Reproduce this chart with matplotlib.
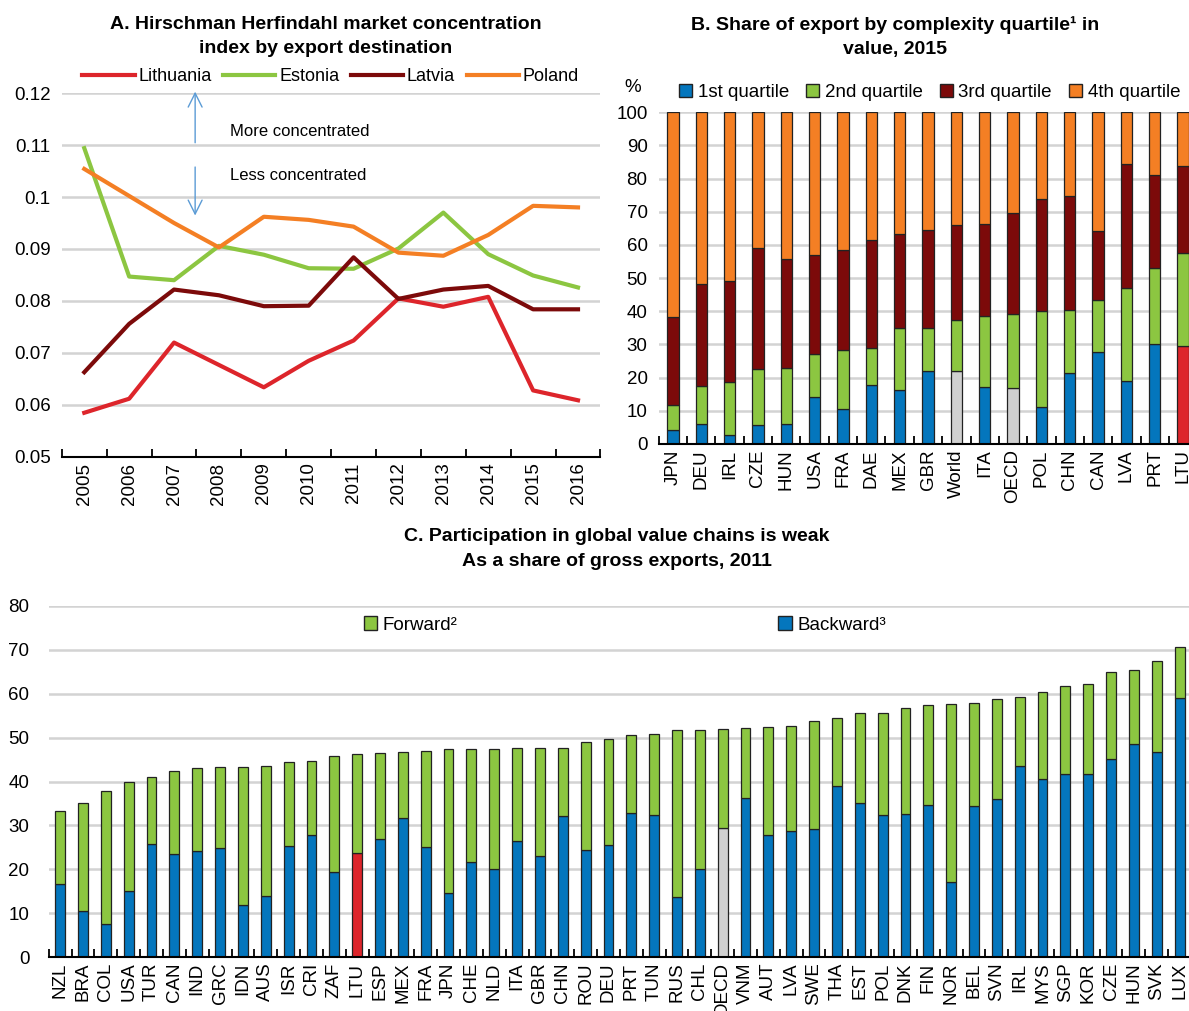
import numpy as np
import matplotlib
matplotlib.use("Agg")
import matplotlib.pyplot as plt
from matplotlib.patches import Patch

plt.rcParams['font.family'] = ['Liberation Sans Narrow', 'Liberation Sans', 'DejaVu Sans']
plt.rcParams['font.size'] = 13

# ---- Panel A data
years = ['2005', '2006', '2007', '2008', '2009', '2010', '2011', '2012', '2013', '2014', '2015', '2016']
lithuania = [0.0585, 0.0612, 0.0720, 0.0677, 0.0634, 0.0685, 0.0724, 0.0805, 0.0789, 0.0808, 0.0628, 0.0609]
estonia = [0.1094, 0.0847, 0.0840, 0.0906, 0.0889, 0.0863, 0.0862, 0.0901, 0.0970, 0.0890, 0.0849, 0.0826]
latvia = [0.0663, 0.0756, 0.0822, 0.0811, 0.0790, 0.0791, 0.0884, 0.0804, 0.0822, 0.0829, 0.0784, 0.0784]
poland = [0.1054, 0.1002, 0.0950, 0.0903, 0.0962, 0.0956, 0.0943, 0.0893, 0.0887, 0.0927, 0.0983, 0.0980]

# ---- Panel B data
b_countries = ['JPN', 'DEU', 'IRL', 'CZE', 'HUN', 'USA', 'FRA', 'DAE', 'MEX', 'GBR',
               'World', 'ITA', 'OECD', 'POL', 'CHN', 'CAN', 'LVA', 'PRT', 'LTU']
q1 = [4.3, 6.0, 2.6, 5.7, 6.0, 14.0, 10.5, 17.7, 16.2, 22.0, 22.0, 17.0, 16.8, 11.0, 21.5, 27.8, 19.0, 30.1, 29.6]
q2 = [7.5, 11.4, 16.1, 16.8, 16.8, 13.1, 17.8, 11.1, 18.6, 12.9, 15.3, 21.4, 22.3, 29.1, 18.8, 15.7, 28.1, 23.0, 28.0]
q3 = [26.4, 30.8, 30.3, 36.6, 32.9, 29.7, 30.1, 32.8, 28.4, 29.7, 28.7, 28.0, 30.5, 33.7, 34.5, 20.8, 37.4, 28.1, 26.1]
q4 = [61.8, 51.8, 51.0, 40.9, 44.3, 43.2, 41.6, 38.4, 36.8, 35.4, 34.0, 33.6, 30.4, 26.2, 25.2, 35.7, 15.5, 18.8, 16.3]

# ---- Panel C data
c_countries = ['NZL', 'BRA', 'COL', 'USA', 'TUR', 'CAN', 'IND', 'GRC', 'IDN', 'AUS', 'ISR', 'CRI', 'ZAF',
               'LTU', 'ESP', 'MEX', 'FRA', 'JPN', 'CHE', 'NLD', 'ITA', 'GBR', 'CHN', 'ROU', 'DEU', 'PRT',
               'TUN', 'RUS', 'CHL', 'OECD', 'VNM', 'AUT', 'LVA', 'SWE', 'THA', 'EST', 'POL', 'DNK', 'FIN',
               'NOR', 'BEL', 'SVN', 'IRL', 'MYS', 'SGP', 'KOR', 'CZE', 'HUN', 'SVK', 'LUX']
backward = [16.6, 10.6, 7.6, 15.0, 25.7, 23.4, 24.1, 24.8, 11.9, 14.0, 25.2, 27.7, 19.4,
            23.7, 26.8, 31.6, 25.1, 14.6, 21.7, 20.0, 26.4, 23.0, 32.1, 24.4, 25.5, 32.8,
            32.3, 13.7, 20.1, 29.5, 36.2, 27.8, 28.7, 29.1, 38.9, 35.2, 32.3, 32.6, 34.6,
            17.1, 34.5, 36.1, 43.6, 40.5, 41.8, 41.6, 45.2, 48.6, 46.8, 59.0]
total = [33.3, 35.2, 37.8, 39.9, 41.0, 42.5, 43.1, 43.2, 43.4, 43.6, 44.5, 44.6, 45.9,
         46.3, 46.5, 46.7, 47.0, 47.3, 47.3, 47.4, 47.6, 47.6, 47.6, 49.0, 49.6, 50.5,
         50.8, 51.7, 51.8, 52.0, 52.3, 52.4, 52.7, 53.8, 54.4, 55.6, 55.6, 56.8, 57.4,
         57.7, 58.0, 58.8, 59.3, 60.4, 61.7, 62.2, 65.0, 65.3, 67.4, 70.7]
forward = [t - b for t, b in zip(total, backward)]

RED = '#dd252b'
GREEN = '#8cc641'
DARKRED = '#7c0a0a'
ORANGE = '#f47f24'
BLUE = '#0476bd'
GREY = '#d0d0d0'
GRID = '#d3d3d3'


def style_axis(ax, n):
    ax.set_axisbelow(True)
    ax.yaxis.grid(True, color=GRID, linewidth=1.8)
    for s in ['left', 'right', 'top']:
        ax.spines[s].set_visible(False)
    ax.spines['bottom'].set_linewidth(1.5)
    ax.set_xlim(-0.5, n - 0.5)
    ax.set_xticks(np.arange(n))
    ax.set_xticks(np.arange(n + 1) - 0.5, minor=True)
    ax.tick_params(axis='x', which='major', length=0, rotation=90, labelsize=13.5, pad=4)
    ax.tick_params(axis='x', which='minor', direction='in', length=6, width=1.3)
    ax.tick_params(axis='y', length=0, labelsize=13.5, pad=8)


fig = plt.figure(figsize=(11.89, 10.11), dpi=100)

# ---------------- Panel A
axA = fig.add_axes([0.052, 0.548, 0.453, 0.360])
x = np.arange(len(years))
axA.plot(x, lithuania, color=RED, lw=3, label='Lithuania')
axA.plot(x, estonia, color=GREEN, lw=3, label='Estonia')
axA.plot(x, latvia, color=DARKRED, lw=3, label='Latvia')
axA.plot(x, poland, color=ORANGE, lw=3, label='Poland')
style_axis(axA, len(years))
axA.set_xticklabels(years)
axA.set_ylim(0.05, 0.12)
axA.set_yticks([0.05, 0.06, 0.07, 0.08, 0.09, 0.1, 0.11, 0.12])
axA.set_yticklabels(['0.05', '0.06', '0.07', '0.08', '0.09', '0.1', '0.11', '0.12'])
axA.annotate('', xy=(2.47, 0.1208), xytext=(2.47, 0.1099),
             arrowprops=dict(arrowstyle='->', color='#5b9bd5', lw=1, mutation_scale=25), annotation_clip=False)
axA.annotate('', xy=(2.47, 0.0959), xytext=(2.47, 0.1063),
             arrowprops=dict(arrowstyle='->', color='#5b9bd5', lw=1, mutation_scale=25))
axA.text(3.25, 0.1126, 'More concentrated', fontsize=12, va='center')
axA.text(3.25, 0.1041, 'Less concentrated', fontsize=12, va='center')
axA.legend(loc='center', bbox_to_anchor=(0.499, 1.045), ncol=4, frameon=False, fontsize=13,
           handlelength=2.9, handletextpad=0.2, columnspacing=0.65, borderaxespad=0)
fig.text(0.274, 0.964, 'A. Hirschman Herfindahl market concentration\nindex by export destination',
         ha='center', va='center', fontsize=14, fontweight='bold', linespacing=1.55)

# ---------------- Panel B
axB = fig.add_axes([0.554, 0.561, 0.453, 0.328])
xb = np.arange(len(b_countries))
c1 = [GREY if c in ('World', 'OECD') else (RED if c == 'LTU' else BLUE) for c in b_countries]
bottom2 = np.array(q1)
bottom3 = bottom2 + np.array(q2)
bottom4 = bottom3 + np.array(q3)
kw = dict(width=0.4, edgecolor='#222222', linewidth=0.9)
axB.bar(xb, q1, color=c1, **kw)
axB.bar(xb, q2, bottom=bottom2, color=GREEN, **kw)
axB.bar(xb, q3, bottom=bottom3, color=DARKRED, **kw)
axB.bar(xb, q4, bottom=bottom4, color=ORANGE, **kw)
style_axis(axB, len(b_countries))
axB.set_xticklabels(b_countries)
axB.set_ylim(0, 100)
axB.set_yticks(np.arange(0, 101, 10))
hB = [Patch(facecolor=BLUE, edgecolor='#222222'), Patch(facecolor=GREEN, edgecolor='#222222'),
      Patch(facecolor=DARKRED, edgecolor='#222222'), Patch(facecolor=ORANGE, edgecolor='#222222')]
axB.legend(hB, ['1st quartile', '2nd quartile', '3rd quartile', '4th quartile'], loc='center',
           bbox_to_anchor=(0.503, 1.06), ncol=4, frameon=False, fontsize=13.5,
           handlelength=0.7, handleheight=0.7, handletextpad=0.3, columnspacing=0.9, borderaxespad=0)
fig.text(0.532, 0.913, '%', ha='center', va='center', fontsize=13.5)
fig.text(0.753, 0.963, 'B. Share of export by complexity quartile¹ in\nvalue, 2015',
         ha='center', va='center', fontsize=14, fontweight='bold', linespacing=1.55)

# ---------------- Panel C
axC = fig.add_axes([0.041, 0.0534, 0.9607, 0.3472])
xc = np.arange(len(c_countries))
cb = [GREY if c == 'OECD' else (RED if c == 'LTU' else BLUE) for c in c_countries]
kw = dict(width=0.43, edgecolor='#222222', linewidth=0.9)
axC.bar(xc, backward, color=cb, **kw)
axC.bar(xc, forward, bottom=backward, color=GREEN, **kw)
style_axis(axC, len(c_countries))
axC.set_xticklabels(c_countries)
axC.set_ylim(0, 80)
axC.set_yticks(np.arange(0, 81, 10))
axC.tick_params(axis='y', pad=14)
hC = [Patch(facecolor=GREEN, edgecolor='#222222'), Patch(facecolor=BLUE, edgecolor='#222222')]
axC.legend(hC, ['Forward²', 'Backward³'], loc='center', bbox_to_anchor=(0.5045, 0.946),
           ncol=2, frameon=False, fontsize=13.5, handlelength=0.7, handleheight=0.7,
           handletextpad=0.3, columnspacing=17.1, borderaxespad=0)
fig.text(0.519, 0.457, 'C. Participation in global value chains is weak\nAs a share of gross exports, 2011',
         ha='center', va='center', fontsize=14, fontweight='bold', linespacing=1.55)

fig.savefig('out.png', dpi=100)
